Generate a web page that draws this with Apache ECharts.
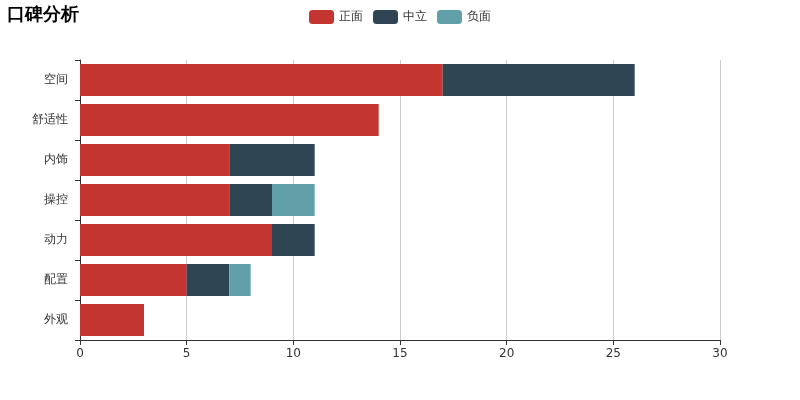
<!DOCTYPE html>
<html><head><meta charset="utf-8">
<script src="https://cdn.jsdelivr.net/npm/echarts@6/dist/echarts.min.js"></script>
<style>html,body{margin:0;padding:0;background:#fff}#c{width:800px;height:400px}</style>
</head><body><div id="c"></div>
<script>
const categories = ['外观', '配置', '动力', '操控', '内饰', '舒适性', '空间'];
const positive = [3, 5, 9, 7, 7, 14, 17];
const neutral = [0, 2, 2, 2, 4, 0, 9];
const negative = [0, 1, 0, 2, 0, 0, 0];
const xTicks = [0, 5, 10, 15, 20, 25, 30];

const chart = echarts.init(document.getElementById('c'));
chart.setOption({
  animation: false,
  color: ['#c23531', '#2f4554', '#61a0a8'],
  title: { text: '口碑分析', left: 2, top: 1, textStyle: { fontSize: 18, fontWeight: 'bold', color: '#000' } },
  legend: { top: 5, left: 'center', itemWidth: 25, itemHeight: 14, itemGap: 10, textStyle: { color: '#333', fontSize: 12 }, data: ['正面', '中立', '负面'] },
  grid: { left: 80, right: 80, top: 60, bottom: 60, containLabel: false },
  xAxis: {
    type: 'value', min: xTicks[0], max: xTicks[xTicks.length - 1], interval: 5,
    axisLine: { show: true, lineStyle: { color: '#333' } },
    axisTick: { show: true, lineStyle: { color: '#333' } },
    axisLabel: { color: '#333', fontSize: 12, fontFamily: 'DejaVu Sans' },
    splitLine: { show: true, lineStyle: { color: '#ccc' } }
  },
  yAxis: {
    type: 'category', data: categories,
    axisLine: { show: true, lineStyle: { color: '#333' } },
    axisTick: { show: true, lineStyle: { color: '#333' } },
    axisLabel: { color: '#333', fontSize: 12, margin: 12 }
  },
  series: [
    { name: '正面', type: 'bar', stack: 'total', barCategoryGap: '20%', data: positive },
    { name: '中立', type: 'bar', stack: 'total', barCategoryGap: '20%', data: neutral },
    { name: '负面', type: 'bar', stack: 'total', barCategoryGap: '20%', data: negative }
  ]
});
</script></body></html>
